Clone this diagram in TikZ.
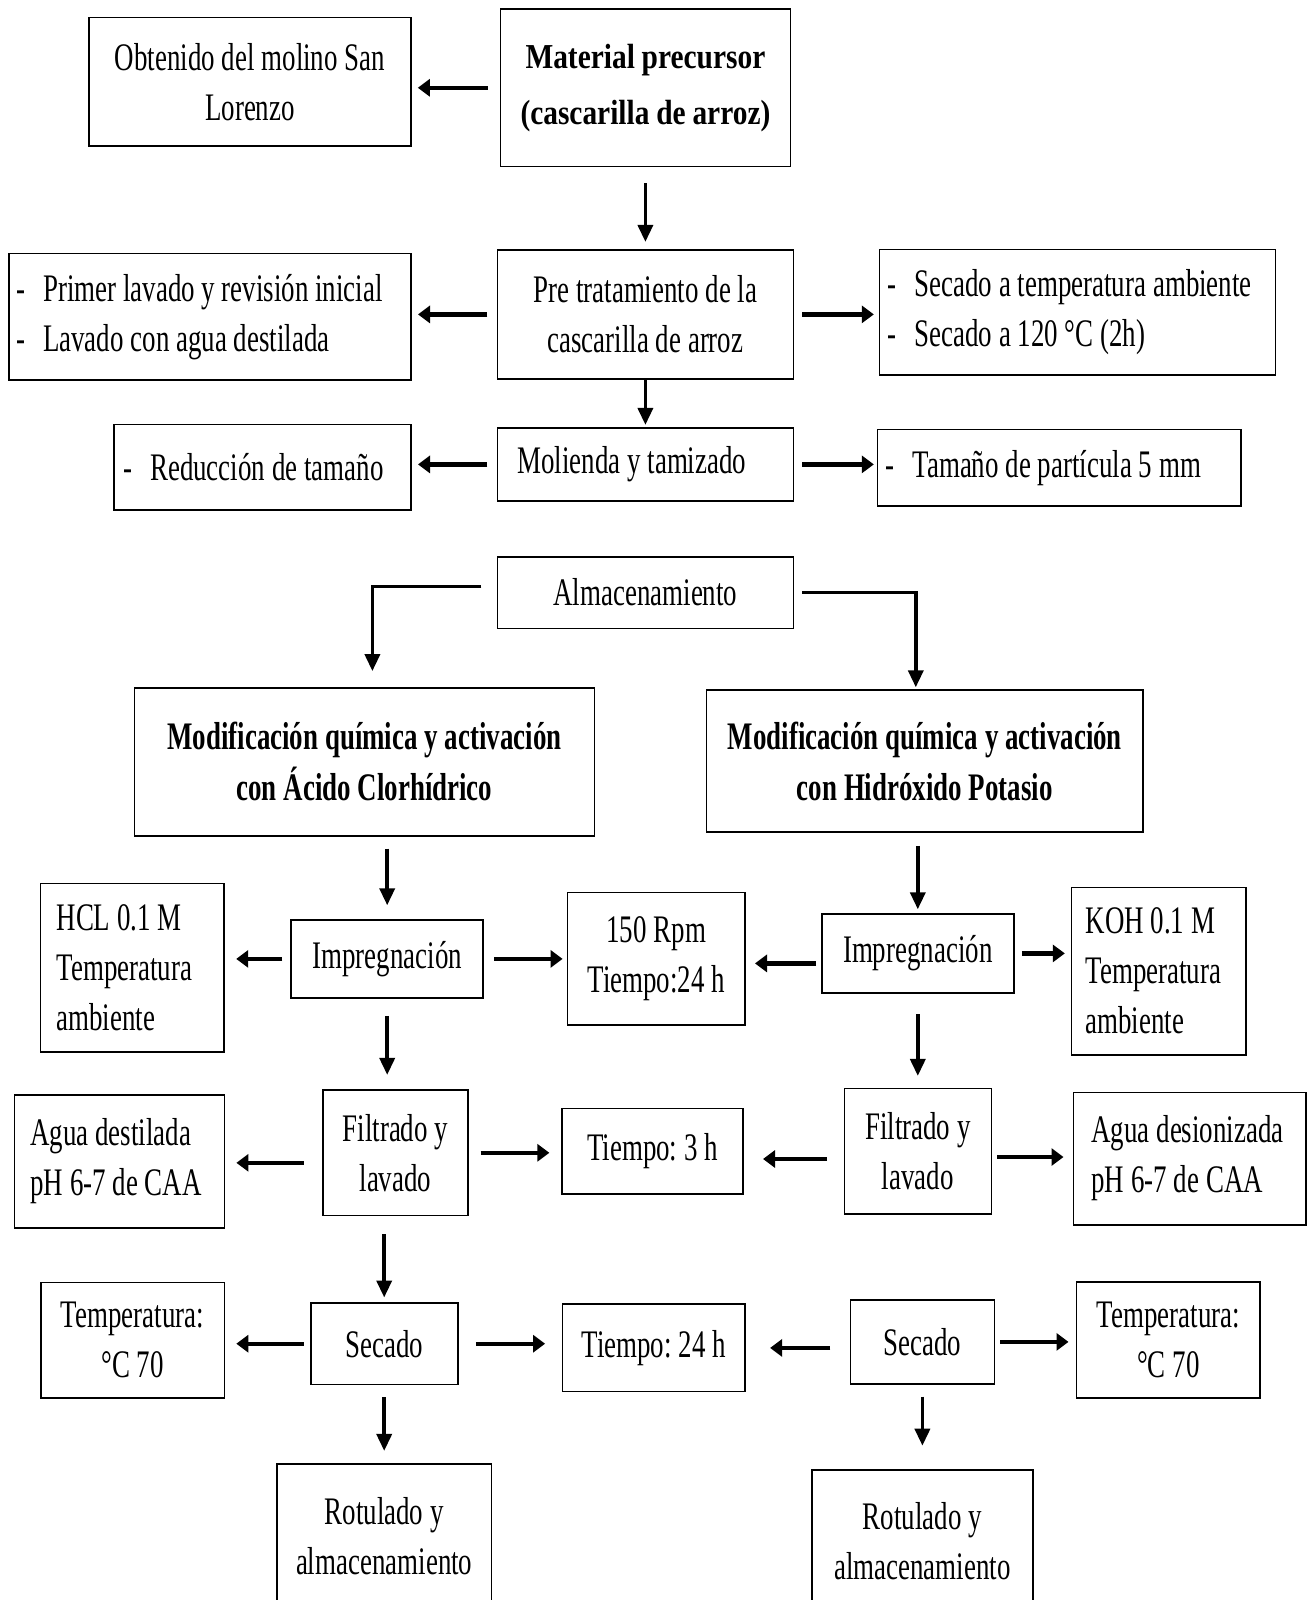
\documentclass[tikz,border=0pt]{standalone}
\usepackage{fontspec}
\setmainfont{Liberation Serif}[FakeStretch=0.69]
\newfontfamily\titulo{Liberation Serif}[FakeStretch=0.84]
\usetikzlibrary{positioning,arrows.meta}
\hyphenpenalty=10000

\begin{document}
\begin{tikzpicture}[node distance={40pt},
main/.style={draw,line width=0.8pt,inner xsep=0pt,inner ysep=0pt,align=center,font=\fontsize{19.5}{25}\selectfont,execute at begin node={\spaceskip=3.4pt\xspaceskip=3.4pt\relax}},
lista/.style={main,align=left},
negrita/.style={main,font=\fontsize{19.5}{25.5}\selectfont\bfseries},
flecha/.style={-{Triangle[length=6pt,width=8.5pt]},line width=2.2pt},
bajada/.style={-{Triangle[length=8.5pt,width=7.5pt]},line width=1.8pt}]
\useasboundingbox (0,0) rectangle (657pt,-800pt);

\node[main,font={\titulo\fontsize{17.5}{28}\selectfont\bfseries},text width=145pt,minimum height=78.5pt] (1) at (322.7pt,-43.9pt) {Material precursor\\(cascarilla de arroz)};
\node[main,text width=161pt,minimum height=64.3pt] (2) [left=43.9pt of 1,yshift=3pt] {Obtenido del molino San\\Lorenzo};
\node[main,text width=148pt,minimum height=64.7pt] (3) [below=40.9pt of 1] {Pre tratamiento de la\\cascarilla de arroz};
\node[lista,inner xsep=3.5pt,text width=194pt,minimum height=63.3pt] (4) [left=42.3pt of 3,yshift=-1.2pt] {-\hspace{9pt}Primer lavado y revisión inicial\\-\hspace{9pt}Lavado con agua destilada};
\node[lista,inner xsep=4pt,text width=190pt,minimum height=62.7pt] (5) [right=42.3pt of 3,yshift=1.1pt] {-\hspace{9pt}Secado a temperatura ambiente\\-\hspace{9pt}Secado a 120 °C (2h)};
\node[lista,inner xsep=10pt,text width=128pt,minimum height=36.7pt] (6) [below=23.5pt of 3] {Molienda y tamizado};
\node[lista,inner xsep=4.5pt,text width=139.5pt,minimum height=42.8pt] (7) [left=42.3pt of 6,yshift=-1.5pt] {-\hspace{9pt}Reducción de tamaño};
\node[lista,inner xsep=4pt,text width=173.6pt,minimum height=38.3pt] (8) [right=41.3pt of 6,yshift=-1.7pt] {-\hspace{9pt}Tamaño de partícula 5 mm};
\node[main,text width=148pt,minimum height=35.7pt] (9) [below=27.1pt of 6] {Almacenamiento};

\node[negrita,text width=230pt,minimum height=74pt] (10) [below=29pt of 9,xshift=-140.5pt] {Modificación química y activación\\con Ácido Clorhídrico};
\node[negrita,text width=218.3pt,minimum height=70.9pt] (11) [below=30.1pt of 9,xshift=139.7pt] {Modificación química y activación\\con Hidróxido Potasio};

\node[main,text width=96pt,minimum height=38.8pt] (12) [below=41.3pt of 10,xshift=11.4pt] {Impregnación};
\node[lista,inner xsep=8pt,text width=75.8pt,minimum height=84.2pt] (13) [left=32.7pt of 12,yshift=-4.3pt] {HCL 0.1 M\\Temperatura\\ambiente};
\node[main,text width=88.8pt,minimum height=66.3pt] (14) [right=41.3pt of 12] {150 Rpm\\Tiempo:24 h};
\node[main,text width=96pt,minimum height=39.3pt] (15) [below=40.3pt of 11,xshift=-3.5pt] {Impregnación};
\node[lista,inner xsep=7pt,text width=73.2pt,minimum height=83.7pt] (16) [right=28.1pt of 15,yshift=-8.9pt] {KOH 0.1 M\\Temperatura\\ambiente};

\node[main,text width=72.4pt,minimum height=62.7pt] (17) [below=45.4pt of 12,xshift=4.1pt] {Filtrado y\\lavado};
\node[lista,inner xsep=8pt,text width=89pt,minimum height=66.3pt] (18) [left=48.5pt of 17,yshift=-4.3pt] {Agua destilada\\pH 6-7 de CAA};
\node[main,text width=90.3pt,minimum height=42.8pt] (19) [right=46.4pt of 17,yshift=0.8pt] {Tiempo: 3 h};
\node[main,text width=73.5pt,minimum height=62.7pt] (20) [below=47pt of 15] {Filtrado y\\lavado};
\node[lista,inner xsep=9pt,text width=98.3pt,minimum height=66.3pt] (21) [right=40.3pt of 20,yshift=-3.8pt] {Agua desionizada\\pH 6-7 de CAA};

\node[main,text width=73.5pt,minimum height=40.8pt] (22) [below=42.9pt of 17,xshift=-5.6pt] {Secado};
\node[main,text width=91.8pt,minimum height=57.6pt] (23) [left=42.4pt of 22,yshift=1.8pt] {Temperatura:\\°C 70};
\node[main,text width=91.3pt,minimum height=43.9pt] (24) [right=51.5pt of 22,yshift=-2pt] {Tiempo: 24 h};
\node[main,text width=71.9pt,minimum height=41.8pt] (25) [below=42.4pt of 20,xshift=2.3pt] {Secado};
\node[main,text width=91.8pt,minimum height=58.1pt] (26) [right=40.3pt of 25,yshift=1pt] {Temperatura:\\°C 70};

\node[main,text width=107.1pt,minimum height=72.9pt] (27) [below=38.8pt of 22] {Rotulado y\\almacenamiento};
\node[main,text width=110.7pt,minimum height=71.5pt] (28) [below=42.3pt of 25] {Rotulado y\\almacenamiento};

\draw[flecha,shorten <=6pt,shorten >=3pt] (1.west) -- (1.west -| 2.east);
\draw[bajada,shorten <=8pt,shorten >=3.5pt] (1.south) -- (1.south |- 3.north);
\draw[flecha,shorten <=4.6pt,shorten >=3pt] (3.west) -- (3.west -| 4.east);
\draw[flecha,shorten <=4pt,shorten >=2.5pt] (3.east) -- (3.east -| 5.west);
\draw[bajada,shorten >=1pt] (3.south) -- (3.south |- 6.north);
\draw[flecha,shorten <=4.6pt,shorten >=3pt] (6.west) -- (6.west -| 7.east);
\draw[flecha,shorten <=4pt,shorten >=1.5pt] (6.east) -- (6.east -| 8.west);

\draw[bajada,shorten <=7.6pt,shorten >=8pt] ([yshift=3pt]9.west) -| ([xshift=4pt]10.north);
\draw[bajada,shorten <=4pt,shorten >=1pt] (9.east) -| ([xshift=-4.5pt]11.north);
\draw[bajada,shorten <=6pt,shorten >=7pt] (12.north |- 10.south) -- (12.north);
\draw[bajada,shorten <=6.6pt,shorten >=2pt] (15.north |- 11.south) -- (15.north);

\draw[flecha,shorten <=4pt,shorten >=5.6pt] (12.west) -- (12.west -| 13.east);
\draw[flecha,shorten <=5pt,shorten >=2pt] (12.east) -- (12.east -| 14.west);
\draw[flecha,shorten <=2.5pt,shorten >=4.6pt] ([yshift=-5pt]15.west) -- ([yshift=-5pt]15.west -| 14.east);
\draw[flecha,shorten <=3.6pt,shorten >=3pt] (15.east) -- (15.east -| 16.west);
\draw[bajada,shorten <=8.7pt,shorten >=7.2pt] (12.south) -- (12.south |- 17.north);
\draw[bajada,shorten <=10.3pt,shorten >=5.8pt] (15.south) -- (15.south |- 20.north);

\draw[flecha,shorten <=9.2pt,shorten >=5.6pt] ([yshift=-5pt]17.west) -- ([yshift=-5pt]17.west -| 18.east);
\draw[flecha,shorten <=6pt,shorten >=6pt] (17.east) -- (17.east -| 19.west);
\draw[flecha,shorten <=8.2pt,shorten >=9.7pt] ([yshift=-4pt]20.west) -- ([yshift=-4pt]20.west -| 19.east);
\draw[flecha,shorten <=2.6pt,shorten >=4.6pt] ([yshift=-3pt]20.east) -- ([yshift=-3pt]20.east -| 21.west);
\draw[bajada,shorten <=9pt,shorten >=2.3pt] (22.north |- 17.south) -- (22.north);

\draw[flecha,shorten <=3pt,shorten >=5.6pt] (22.west) -- (22.west -| 23.east);
\draw[flecha,shorten <=8.7pt,shorten >=8.2pt] (22.east) -- (22.east -| 24.west);
\draw[flecha,shorten <=9.7pt,shorten >=12.2pt] ([yshift=-3pt]25.west) -- ([yshift=-3pt]25.west -| 24.east);
\draw[flecha,shorten <=2.6pt,shorten >=3.6pt] (25.east) -- (25.east -| 26.west);
\draw[bajada,shorten <=6pt,shorten >=6pt] (22.south) -- (22.south |- 27.north);
\draw[bajada,shorten <=6pt,shorten >=11.7pt] (25.south) -- (25.south |- 28.north);

\end{tikzpicture}
\end{document}
